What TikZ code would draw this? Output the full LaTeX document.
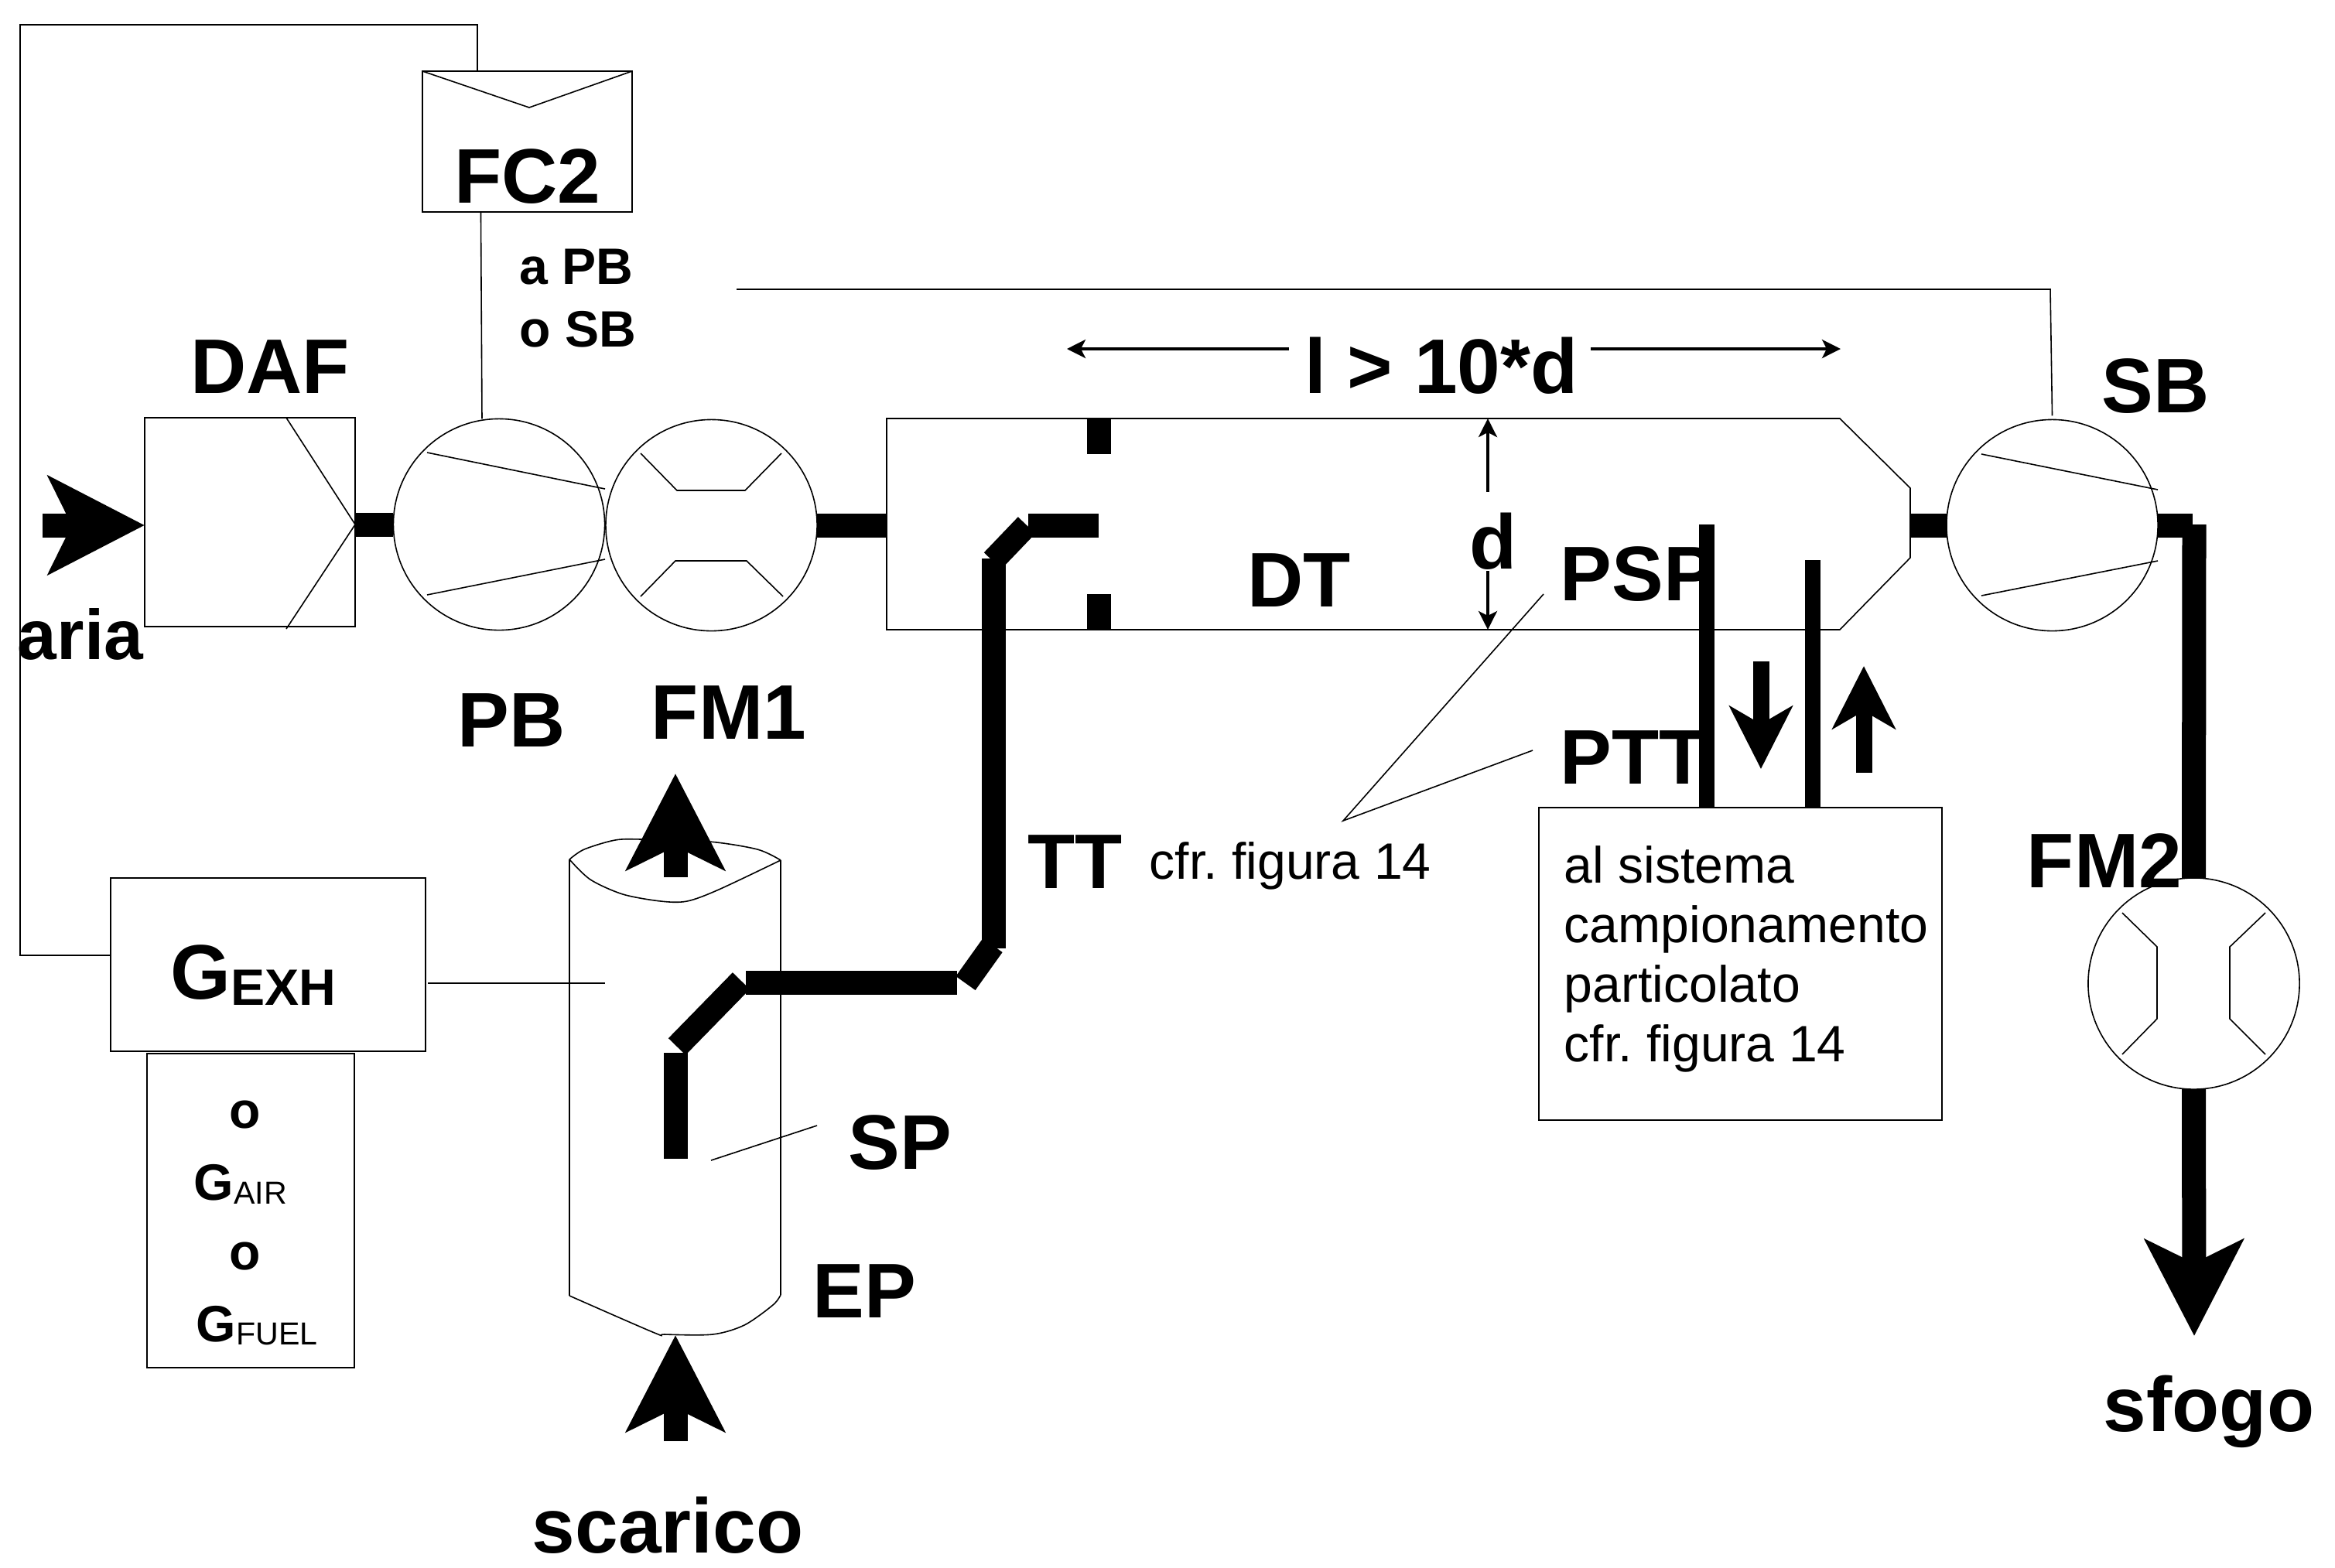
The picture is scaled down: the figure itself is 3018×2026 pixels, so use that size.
\documentclass[tikz,border=0pt]{standalone}
\usepackage{fontspec}
\setmainfont{Liberation Sans}
\usetikzlibrary{arrows.meta}
\frenchspacing
\newcommand{\bigfont}{\fontsize{28.45}{30}\selectfont\bfseries}
\newcommand{\midfont}{\fontsize{18.8}{21.9}\selectfont}
\newcommand{\tinyfont}{\fontsize{11.7}{13}\selectfont}
\begin{document}
\begin{tikzpicture}[x=0.01cm, y=-0.01cm, line width=0.016cm,
    box/.style={draw, inner sep=0pt, outer sep=0pt},
    round/.style={draw, circle, inner sep=0pt, outer sep=0pt, minimum size=2.73cm},
    biglabel/.style={anchor=base, inner sep=0pt, font=\bigfont},
    midlabel/.style={anchor=base west, inner sep=0pt, font=\midfont},
    pipe/.style={line width=0.31cm},
    probe/.style={line width=0.2cm},
    flow/.style={line width=0.31cm, -{Stealth[length=1.24cm, width=1.26cm, inset=0.3cm]}},
    smallflow/.style={line width=0.21cm, -{Stealth[length=0.81cm, width=0.81cm, inset=0.23cm]}},
    dim/.style={line width=0.035cm, -{Stealth[length=0.24cm, width=0.24cm, inset=0.06cm]}}]
    \useasboundingbox (0,0) rectangle (3018,2026);

    \node[box, minimum width=2.72cm, minimum height=2.7cm] (DAF) at (323,675) {};
    \node[box, minimum width=2.71cm, minimum height=1.82cm] (FC2) at (681.5,183) {};
    \node[round] (PB) at (645,678) {};
    \node[round] (FM1) at (919.5,679) {};
    \node[round] (SB) at (2652.5,679) {};
    \node[round] (FM2) at (2835.5,1271.5) {};
    \node[box, minimum width=4.07cm, minimum height=2.24cm] (GEXH) at (346.5,1247) {};
    \node[box, minimum width=2.68cm, minimum height=4.06cm] (GALT) at (324,1565) {};
    \node[box, minimum width=5.21cm, minimum height=4.04cm] (CAMP) at (2249.5,1246) {};

    \draw (370,540) -- (DAF.east |- PB.west) -- (370,813);
    \draw (FC2.north west) -- (684,139) -- (FC2.north east);
    \draw (552,585) -- (782,632);
    \draw (552,769) -- (782,723);
    \draw (828,586) -- (875,634) -- (963,634) -- (1010,586);
    \draw (828,771) -- (873,725) -- (965,725) -- (1012,771);
    \draw (2561,587) -- (2789,633);
    \draw (2561,770) -- (2789,725);
    \draw (2743,1180) -- (2788,1224) -- (2788,1317) -- (2743,1363);
    \draw (2928,1180) -- (2882,1224) -- (2882,1317) -- (2928,1363);

    % tunnel
    \draw (1146,541) -- (2378,541) -- (2469,631) -- (2469,721) -- (2378,814) -- (1146,814) -- cycle;
    \draw[pipe] (1420,541) -- (1420,587);
    \draw[pipe] (1420,768) -- (1420,814);

    % exhaust pipe
    \draw (736,1111) -- (736,1675);
    \draw (1009,1112) -- (1009,1674);
    \draw plot[smooth] coordinates {(736,1111) (755,1098) (795,1086) (830,1085) (917,1088) (979,1098) (1009,1112)};
    \draw plot[smooth] coordinates {(736,1111) (763,1137) (805,1156) (854,1165) (888,1165) (929,1150) (1009,1112)};
    \draw plot[smooth] coordinates {(736,1675) (846,1723) (859,1725) (921,1725) (962,1713) (999,1687) (1009,1674)};

    % signal lines
    \coordinate (fbA) at (26,1235);
    \coordinate (fbB) at (26,32);
    \coordinate (fbC) at (617,32);
    \coordinate (topA) at (952,374);
    \coordinate (topB) at (2650,374);
    \coordinate (EPin) at (782,1271);
    \coordinate (SPa) at (919,1500);
    \coordinate (SPb) at (1056,1455);
    \coordinate (cfrTip) at (1736,1061);
    \coordinate (cfrPSP) at (1995,768);
    \coordinate (cfrPTT) at (1981,970);
    \draw (GEXH.west |- fbA) -- (fbA) -- (fbB) -- (fbC) -- (fbC |- FC2.north);
    \draw ([xshift=-0.6cm]FC2.south) -- ([xshift=-0.22cm]PB.north);
    \draw (topA) -- (topB) -- ([yshift=0.05cm]SB.north);
    \draw (553,1271) -- (EPin);
    \draw (SPa) -- (SPb);
    \draw (cfrPSP) -- (cfrTip) -- (cfrPTT);

    % main flow
    \coordinate (airIn) at (55,679);
    \coordinate (exIn) at (873,1863);
    \coordinate (exOut) at (873,1134);
    \coordinate (ventEnd) at (2836,1727);
    \coordinate (sbOut) at (2834,679);
    \draw[flow] (airIn) -- (DAF.west |- airIn);
    \draw[pipe] (DAF.east |- PB.west) -- (PB.west);
    \draw[pipe] (FM1.east) -- (1146,679);
    \draw[pipe] (2469,679) -- (SB.west);
    \draw[pipe] (SB.east) -- (sbOut);
    \draw[pipe] (2836,678) -- (FM2.north);
    \draw[flow] (FM2.south) -- (ventEnd);
    \draw[flow] (exIn) -- (873,1726);
    \draw[flow] (exOut) -- (873,1000);

    % transfer tube
    \draw[pipe] (873,1498) -- (873,1361);
    \draw[pipe] (875,1353) -- (958,1268);
    \draw[pipe] (964,1270) -- (1237,1270);
    \draw[pipe] (1248,1271) -- (1283,1222);
    \draw[pipe] (1284,1226) -- (1284,722);
    \draw[pipe] (1283,725) -- (1327,679);
    \draw[pipe] (1329,679) -- (1420,679);

    % probes
    \draw[probe] (2206,678) -- (2206,1044);
    \draw[probe] (2343,724) -- (2343,1044);
    \draw[smallflow] (2276,855) -- (2276,994);
    \draw[smallflow] (2409,999) -- (2409,861);

    % lengths
    \coordinate (dimL) at (1666,451);
    \coordinate (dimR) at (2056,451);
    \draw[dim] (dimL) -- (1379,451);
    \draw[dim] (dimR) -- (2379,451);
    \draw[dim] (1923,636) -- (1923,541);
    \draw[dim] (1923,738) -- (1923,814);

    % labels
    \node[biglabel] (lblDAF) at (349,508) {DAF};
    \node[biglabel] (lblFC2) at (682,262) {FC2};
    \node[biglabel] (lblPB) at (661,965) {PB};
    \node[biglabel] (lblFM1) at (942,955) {FM1};
    \node[biglabel, font=\fontsize{25.9}{28}\selectfont\bfseries] (lblAria) at (104,852) {aria};
    \node[biglabel] (lblLen) at (1863,508) {l > 10*d};
    \node[biglabel] (lblD) at (1930,735) {d};
    \node[biglabel] (lblDT) at (1679,784) {DT};
    \node[biglabel, anchor=base west] (lblPSP) at (2016,776) {PSP};
    \node[biglabel, anchor=base west] (lblPTT) at (2016,1013) {PTT};
    \node[biglabel, anchor=base west] (lblTT) at (1328,1148) {TT};
    \node[biglabel] (lblSB) at (2786,533) {SB};
    \node[biglabel] (lblFM2) at (2720,1147) {FM2};
    \node[biglabel] (lblSP) at (1163,1511) {SP};
    \node[biglabel] (lblEP) at (1117,1703) {EP};
    \node[biglabel] (lblScarico) at (863,2007) {scarico};
    \node[biglabel] (lblSfogo) at (2855,1850) {sfogo};
    \node[midlabel, font=\midfont\bfseries] (lblApb) at (671,367) {a PB};
    \node[midlabel, font=\midfont\bfseries] (lblOsb) at (671,448) {o SB};
    \node[midlabel] (lblCfr) at (1485,1136) {cfr. figura 14};
    \node[midlabel, anchor=north west, align=left] (lblCamp) at (2021,1093) {al sistema\\campionamento\\particolato\\cfr. figura 14};
    \node[biglabel, anchor=base west] (lblGexh) at (220,1291) {G\raisebox{-0.08cm}{\fontsize{18.8}{20}\selectfont EXH}};
    \node[midlabel, font=\midfont\bfseries, anchor=base] (lblOa) at (317,1458) {o};
    \node[midlabel, font=\midfont\bfseries, anchor=base] (lblOb) at (317,1641) {o};
    \node[midlabel, anchor=base west] (lblGair) at (250,1551) {\textbf{G}\raisebox{-0.05cm}{\tinyfont AIR}};
    \node[midlabel, anchor=base west] (lblGfuel) at (253,1734) {\textbf{G}\raisebox{-0.04cm}{\tinyfont FUEL}};
\end{tikzpicture}
\end{document}
